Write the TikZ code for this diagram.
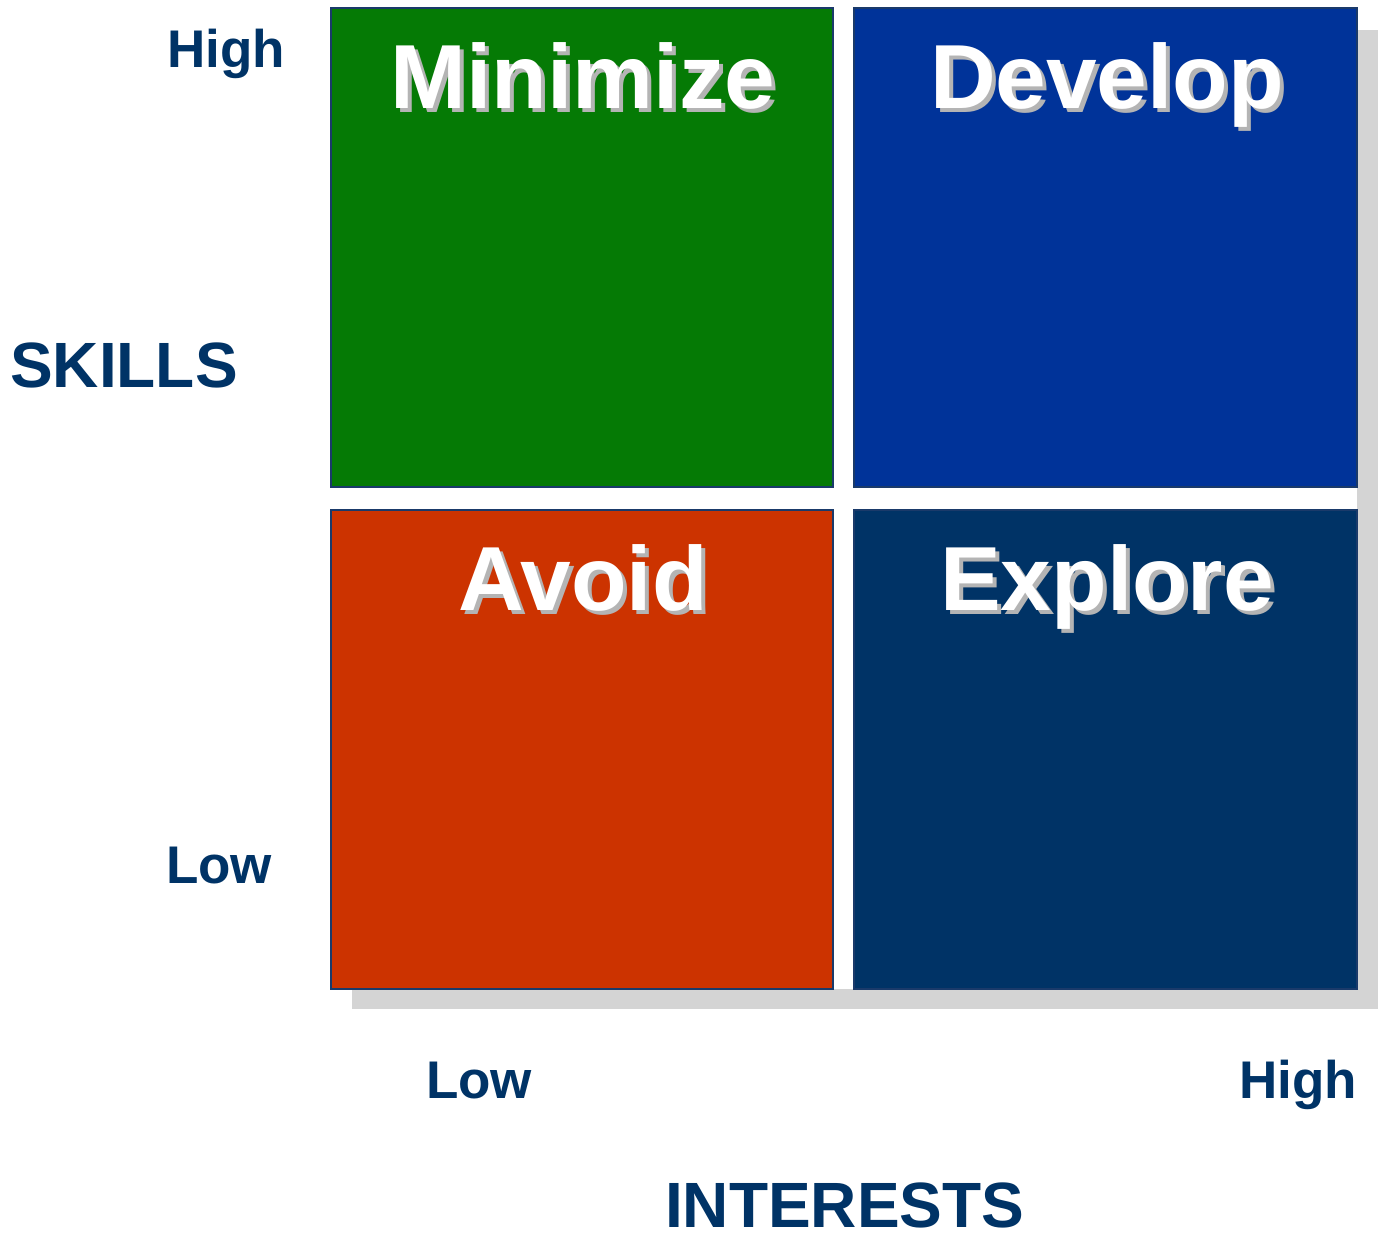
\documentclass[tikz,border=0pt]{standalone}
\usepackage{fontspec}
\setmainfont{Liberation Sans}
\begin{document}
\definecolor{navy}{HTML}{003366}
\definecolor{qgreen}{HTML}{057A05}
\definecolor{qblue}{HTML}{003399}
\definecolor{qred}{HTML}{CC3300}
\definecolor{qnavy}{HTML}{003366}
\definecolor{edge}{HTML}{1A3A6A}
\definecolor{dropgray}{HTML}{D4D4D4}
\definecolor{txtshadow}{HTML}{B4B4B4}
\begin{tikzpicture}[x=1pt,y=-1pt,
  quad/.style={draw=edge,line width=1.8pt},
  axis/.style={font=\bfseries\fontsize{53}{53}\selectfont,text=navy,inner sep=0pt,anchor=base west},
  title/.style={font=\bfseries\fontsize{64}{64}\selectfont,text=navy,inner sep=0pt,anchor=base west},
  big/.style={font=\bfseries\fontsize{91}{91}\selectfont,text=white,inner sep=0pt,anchor=base},
  bigshadow/.style={font=\bfseries\fontsize{91}{91}\selectfont,text=txtshadow,inner sep=0pt,anchor=base}]
  \useasboundingbox (0,0) rectangle (1379,1234);
  % drop shadow behind the whole matrix
  \fill[dropgray] (352,30) rectangle (1378,1009);
  % quadrants
  \fill[white] (331,8) rectangle (1357,989);
  \draw[quad,fill=qgreen] (331,8) rectangle (833,487);
  \draw[quad,fill=qblue] (854,8) rectangle (1357,487);
  \draw[quad,fill=qred] (331,510) rectangle (833,989);
  \draw[quad,fill=qnavy] (854,510) rectangle (1357,989);
  % quadrant titles with shadow
  \node[bigshadow] (minS) at (587,112) {Minimize};
  \node[big] (min) at (583,108) {Minimize};
  \node[bigshadow] (devS) at (1111,112) {Develop};
  \node[big] (dev) at (1107,108) {Develop};
  \node[bigshadow] (avS) at (587,614) {Avoid};
  \node[big] (av) at (583,610) {Avoid};
  \node[bigshadow] (exS) at (1111,614) {Explore};
  \node[big] (ex) at (1107,610) {Explore};
  % axis labels
  \node[axis] (yhigh) at (167,67) {High};
  \node[title] (skills) at (10,387) {SKILLS};
  \node[axis] (ylow) at (166,883) {Low};
  \node[axis] (xlow) at (426,1098) {Low};
  \node[axis] (xhigh) at (1239,1098) {High};
  \node[title] (interests) at (665,1227) {INTERESTS};
\end{tikzpicture}
\end{document}
